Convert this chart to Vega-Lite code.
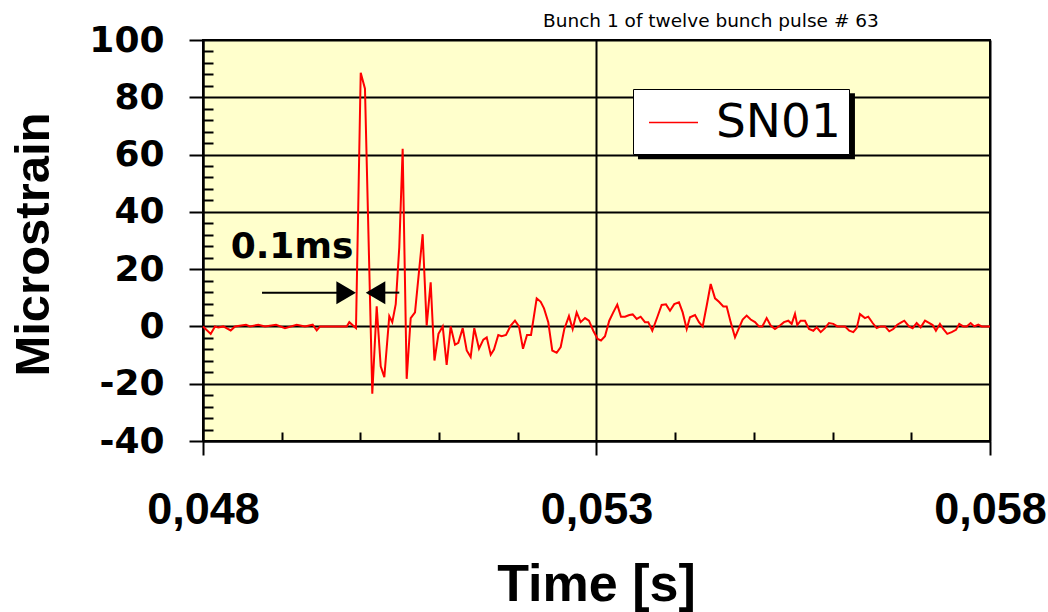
{
  "$schema": "https://vega.github.io/schema/vega-lite/v6.json",
  "width": 787,
  "height": 401,
  "autosize": {"type": "none"},
  "padding": {"left": 203, "top": 40, "right": 58, "bottom": 171},
  "background": "white",
  "config": {
    "view": {"fill": "#FFFFCC", "stroke": "black", "strokeWidth": 2},
    "font": "DejaVu Sans"
  },
  "title": {
    "text": "Bunch 1 of  twelve bunch pulse # 63",
    "anchor": "start",
    "frame": "group",
    "dx": 340,
    "offset": -23,
    "fontSize": 18.5,
    "fontWeight": "normal",
    "font": "DejaVu Sans",
    "color": "black",
    "baseline": "alphabetic"
  },
  "datasets": {
    "signal": [
      {"t": 0.048000, "v": 0}, {"t": 0.048098, "v": -2.6}, {"t": 0.048152, "v": 0}, {"t": 0.048194, "v": -0.4},
      {"t": 0.048258, "v": 0}, {"t": 0.048352, "v": -1.4}, {"t": 0.048407, "v": 0}, {"t": 0.048546, "v": 0.6},
      {"t": 0.048597, "v": 0}, {"t": 0.048703, "v": 0.6}, {"t": 0.048788, "v": 0}, {"t": 0.048928, "v": 0.6},
      {"t": 0.049042, "v": -0.6}, {"t": 0.049191, "v": 0.6}, {"t": 0.049296, "v": 0}, {"t": 0.049394, "v": 0.6},
      {"t": 0.049445, "v": -1.4}, {"t": 0.049487, "v": 0}, {"t": 0.049826, "v": 0}, {"t": 0.049859, "v": 1.5},
      {"t": 0.049944, "v": -0.6}, {"t": 0.050004, "v": 88.6}, {"t": 0.050058, "v": 83}, {"t": 0.050151, "v": -23.5},
      {"t": 0.050207, "v": 7}, {"t": 0.050258, "v": -13.9}, {"t": 0.050304, "v": -17.7}, {"t": 0.050367, "v": 3.6},
      {"t": 0.050405, "v": 1.5}, {"t": 0.050449, "v": 7.8}, {"t": 0.050494, "v": 27.6}, {"t": 0.050537, "v": 62},
      {"t": 0.050588, "v": -18.3}, {"t": 0.050639, "v": 2.9}, {"t": 0.050694, "v": 4.9}, {"t": 0.050791, "v": 32.2},
      {"t": 0.050842, "v": 0.3}, {"t": 0.050893, "v": 15.4}, {"t": 0.050941, "v": -11.9}, {"t": 0.050992, "v": -2.6},
      {"t": 0.051046, "v": 0}, {"t": 0.051096, "v": -13.4}, {"t": 0.051147, "v": 0}, {"t": 0.051202, "v": -6.4},
      {"t": 0.051244, "v": -5.7}, {"t": 0.051300, "v": -0.6}, {"t": 0.051351, "v": -8.4}, {"t": 0.051401, "v": -10.7},
      {"t": 0.051447, "v": -0.6}, {"t": 0.051507, "v": -7.8}, {"t": 0.051562, "v": -4.6}, {"t": 0.051605, "v": -3.8},
      {"t": 0.051656, "v": -9.9}, {"t": 0.051697, "v": -8.1}, {"t": 0.051752, "v": -3}, {"t": 0.051795, "v": -3.4},
      {"t": 0.051850, "v": -3}, {"t": 0.051910, "v": 0.3}, {"t": 0.051964, "v": 2}, {"t": 0.052015, "v": 0},
      {"t": 0.052066, "v": -7.8}, {"t": 0.052117, "v": -3}, {"t": 0.052168, "v": -3}, {"t": 0.052240, "v": 9.8},
      {"t": 0.052291, "v": 8.6}, {"t": 0.052333, "v": 6.3}, {"t": 0.052387, "v": 1.5}, {"t": 0.052438, "v": -8.4},
      {"t": 0.052494, "v": -9.2}, {"t": 0.052545, "v": -7.2}, {"t": 0.052591, "v": -0.9}, {"t": 0.052650, "v": 3.6},
      {"t": 0.052697, "v": -0.9}, {"t": 0.052748, "v": 4.9}, {"t": 0.052799, "v": 1.5}, {"t": 0.052854, "v": 2.9},
      {"t": 0.052904, "v": 2}, {"t": 0.052959, "v": -1.5}, {"t": 0.053015, "v": -4.4}, {"t": 0.053057, "v": -4.9},
      {"t": 0.053108, "v": -3.4}, {"t": 0.053162, "v": 2}, {"t": 0.053213, "v": 4.9}, {"t": 0.053264, "v": 7.6},
      {"t": 0.053311, "v": 3.4}, {"t": 0.053362, "v": 3.4}, {"t": 0.053417, "v": 4}, {"t": 0.053460, "v": 4.2},
      {"t": 0.053511, "v": 2.6}, {"t": 0.053561, "v": 3.4}, {"t": 0.053616, "v": 1.5}, {"t": 0.053658, "v": 1.5},
      {"t": 0.053709, "v": -1.5}, {"t": 0.053772, "v": 3.2}, {"t": 0.053828, "v": 7.5}, {"t": 0.053883, "v": 7.7},
      {"t": 0.053934, "v": 5.5}, {"t": 0.053988, "v": 7.8}, {"t": 0.054048, "v": 8.4}, {"t": 0.054095, "v": 4.9},
      {"t": 0.054146, "v": -0.9}, {"t": 0.054188, "v": 3.2}, {"t": 0.054252, "v": 4}, {"t": 0.054302, "v": 1.5},
      {"t": 0.054349, "v": 0}, {"t": 0.054400, "v": 7.2}, {"t": 0.054451, "v": 14.8}, {"t": 0.054506, "v": 9.8},
      {"t": 0.054556, "v": 8.6}, {"t": 0.054611, "v": 7}, {"t": 0.054654, "v": 7}, {"t": 0.054705, "v": 1.5},
      {"t": 0.054760, "v": -3.8}, {"t": 0.054814, "v": -0.3}, {"t": 0.054857, "v": 2.4}, {"t": 0.054908, "v": 3.8},
      {"t": 0.054959, "v": 2.4}, {"t": 0.055014, "v": 1.5}, {"t": 0.055064, "v": 0}, {"t": 0.055107, "v": 0},
      {"t": 0.055162, "v": 2.9}, {"t": 0.055213, "v": 0.3}, {"t": 0.055268, "v": -0.9}, {"t": 0.055331, "v": 0.3},
      {"t": 0.055382, "v": 1.5}, {"t": 0.055437, "v": 2}, {"t": 0.055480, "v": 0.9}, {"t": 0.055522, "v": 4.4},
      {"t": 0.055551, "v": 0.5}, {"t": 0.055594, "v": 2}, {"t": 0.055649, "v": 2}, {"t": 0.055700, "v": -0.9},
      {"t": 0.055755, "v": -1.5}, {"t": 0.055798, "v": -0.3}, {"t": 0.055849, "v": -2}, {"t": 0.055903, "v": -0.6},
      {"t": 0.055954, "v": 1.2}, {"t": 0.056009, "v": 0.9}, {"t": 0.056060, "v": 0}, {"t": 0.056158, "v": 0},
      {"t": 0.056212, "v": -1.5}, {"t": 0.056263, "v": -2}, {"t": 0.056306, "v": -0.6}, {"t": 0.056348, "v": 4.3},
      {"t": 0.056411, "v": 2.9}, {"t": 0.056453, "v": 3.4}, {"t": 0.056509, "v": 1.2}, {"t": 0.056560, "v": -0.6},
      {"t": 0.056611, "v": 0}, {"t": 0.056666, "v": 0}, {"t": 0.056720, "v": -1.7}, {"t": 0.056771, "v": -0.9},
      {"t": 0.056822, "v": 0.6}, {"t": 0.056878, "v": 1.5}, {"t": 0.056911, "v": 2}, {"t": 0.056970, "v": 0},
      {"t": 0.057017, "v": -0.6}, {"t": 0.057068, "v": 1.2}, {"t": 0.057119, "v": -0.3}, {"t": 0.057174, "v": 2},
      {"t": 0.057225, "v": 1.2}, {"t": 0.057272, "v": 0.5}, {"t": 0.057313, "v": -1.5}, {"t": 0.057364, "v": 0.9},
      {"t": 0.057406, "v": -0.9}, {"t": 0.057457, "v": -2.6}, {"t": 0.057513, "v": -2}, {"t": 0.057568, "v": -1.2},
      {"t": 0.057609, "v": 0.9}, {"t": 0.057660, "v": 0}, {"t": 0.057704, "v": 0}, {"t": 0.057754, "v": 1.2},
      {"t": 0.057800, "v": 0}, {"t": 0.057851, "v": 0.6}, {"t": 0.057894, "v": 0}, {"t": 0.058000, "v": 0}
    ],
    "arrows": [
      {"t1": 0.048750, "t2": 0.049819, "v": 11.8},
      {"t1": 0.050192, "t2": 0.050494, "v": 11.8}
    ],
    "heads": [
      {"t": 0.049819, "v": 11.8, "dir": "right"},
      {"t": 0.050192, "v": 11.8, "dir": "left"}
    ],
    "note": [
      {"t": 0.049131, "v": 27.7, "label": "0.1ms"}
    ],
    "shadow": [
      {"t1": 0.053527, "t2": 0.056284, "v1": 81.4, "v2": 58.4}
    ]
  },
  "layer": [
    {
      "data": {"name": "shadow"},
      "mark": {"type": "rect", "fill": "black"},
      "encoding": {
        "x": {"field": "t1", "type": "quantitative", "scale": {"domain": [0.048, 0.058], "nice": false, "zero": false}, "axis": null},
        "x2": {"field": "t2"},
        "y": {"field": "v1", "type": "quantitative", "scale": {"domain": [-40, 100], "nice": false}, "axis": null},
        "y2": {"field": "v2"}
      }
    },
    {
      "data": {"name": "signal"},
      "mark": {"type": "line", "strokeWidth": 2, "interpolate": "linear"},
      "encoding": {
        "x": {
          "field": "t", "type": "quantitative",
          "scale": {"domain": [0.048, 0.058], "nice": false, "zero": false},
          "axis": {
            "orient": "bottom",
            "values": [0.048, 0.053, 0.058],
            "labelExpr": "replace(format(datum.value, '.3f'), '.', ',')",
            "grid": true, "gridColor": "black", "gridWidth": 2, "gridOpacity": 1,
            "tickSize": 14, "tickWidth": 2, "tickColor": "black",
            "domainColor": "black", "domainWidth": 2,
            "labelFont": "Liberation Sans", "labelFontSize": 45, "labelFontWeight": "bold", "labelColor": "black",
            "labelBaseline": "alphabetic", "labelPadding": 68, "labelFlush": false, "labelOverlap": false,
            "title": "Time [s]", "titleFont": "Liberation Sans", "titleFontSize": 52, "titleFontWeight": "bold",
            "titleColor": "black", "titleX": 393, "titleY": 159, "titleBaseline": "alphabetic", "titleAlign": "center"
          }
        },
        "y": {
          "field": "v", "type": "quantitative",
          "scale": {"domain": [-40, 100], "nice": false},
          "axis": {
            "orient": "left",
            "values": [-40, -20, 0, 20, 40, 60, 80, 100],
            "labelExpr": "'' + datum.value",
            "grid": true, "gridColor": "black", "gridWidth": 2, "gridOpacity": 1,
            "tickSize": 14, "tickWidth": 2, "tickColor": "black",
            "domainColor": "black", "domainWidth": 2,
            "labelFont": "DejaVu Sans", "labelFontSize": 36, "labelFontWeight": "bold", "labelColor": "black",
            "labelPadding": 25, "labelBaseline": "middle", "labelFlush": false, "labelOverlap": false,
            "title": "Microstrain", "titleFont": "Liberation Sans", "titleFontSize": 49, "titleFontWeight": "bold",
            "titleColor": "black", "titleAngle": -90, "titleX": -155, "titleY": 204,
            "titleBaseline": "alphabetic", "titleAlign": "center"
          }
        },
        "color": {
          "datum": "SN01", "type": "nominal",
          "scale": {"range": ["#FF0000"]},
          "legend": {
            "orient": "none", "legendX": 430, "legendY": 49,
            "title": null,
            "fillColor": "white", "strokeColor": "black",
            "padding": 8,
            "symbolType": "stroke", "symbolSize": 2401, "symbolStrokeWidth": 1.5, "symbolOffset": 7,
            "labelOffset": 17, "labelFont": "DejaVu Sans", "labelFontSize": 47, "labelColor": "black", "labelLimit": 400
          }
        }
      }
    },
    {
      "data": {"name": "arrows"},
      "mark": {"type": "rule", "color": "black", "strokeWidth": 2},
      "encoding": {
        "x": {
          "field": "t1", "type": "quantitative",
          "scale": {"domain": [0.048, 0.058], "nice": false, "zero": false},
          "axis": {
            "orient": "bottom",
            "values": [0.049, 0.050, 0.051, 0.052, 0.054, 0.055, 0.056, 0.057],
            "tickSize": -9, "tickWidth": 2, "tickColor": "black",
            "labels": false, "domain": false, "grid": false, "title": null
          }
        },
        "x2": {"field": "t2"},
        "y": {
          "field": "v", "type": "quantitative",
          "scale": {"domain": [-40, 100], "nice": false},
          "axis": {
            "orient": "left",
            "values": [-36, -32, -28, -24, -16, -12, -8, -4, 4, 8, 12, 16, 24, 28, 32, 36, 44, 48, 52, 56, 64, 68, 72, 76, 84, 88, 92, 96],
            "tickSize": -10, "tickWidth": 2, "tickColor": "black",
            "labels": false, "domain": false, "grid": false, "title": null
          }
        }
      }
    },
    {
      "data": {"name": "heads"},
      "mark": {"type": "point", "filled": true, "color": "black", "opacity": 1, "size": 529, "strokeWidth": 0},
      "encoding": {
        "x": {"field": "t", "type": "quantitative", "scale": {"domain": [0.048, 0.058], "nice": false, "zero": false}, "axis": null},
        "y": {"field": "v", "type": "quantitative", "scale": {"domain": [-40, 100], "nice": false}, "axis": null},
        "shape": {
          "field": "dir", "type": "nominal",
          "scale": {"domain": ["right", "left"], "range": ["M-0.85,-1L0.85,0L-0.85,1Z", "M0.85,-1L-0.85,0L0.85,1Z"]},
          "legend": null
        }
      }
    },
    {
      "data": {"name": "note"},
      "mark": {"type": "text", "font": "DejaVu Sans", "fontSize": 36, "fontWeight": "bold", "color": "black", "align": "center", "baseline": "middle"},
      "encoding": {
        "x": {"field": "t", "type": "quantitative", "scale": {"domain": [0.048, 0.058], "nice": false, "zero": false}, "axis": null},
        "y": {"field": "v", "type": "quantitative", "scale": {"domain": [-40, 100], "nice": false}, "axis": null},
        "text": {"field": "label"}
      }
    }
  ],
  "resolve": {"axis": {"x": "independent", "y": "independent"}}
}
